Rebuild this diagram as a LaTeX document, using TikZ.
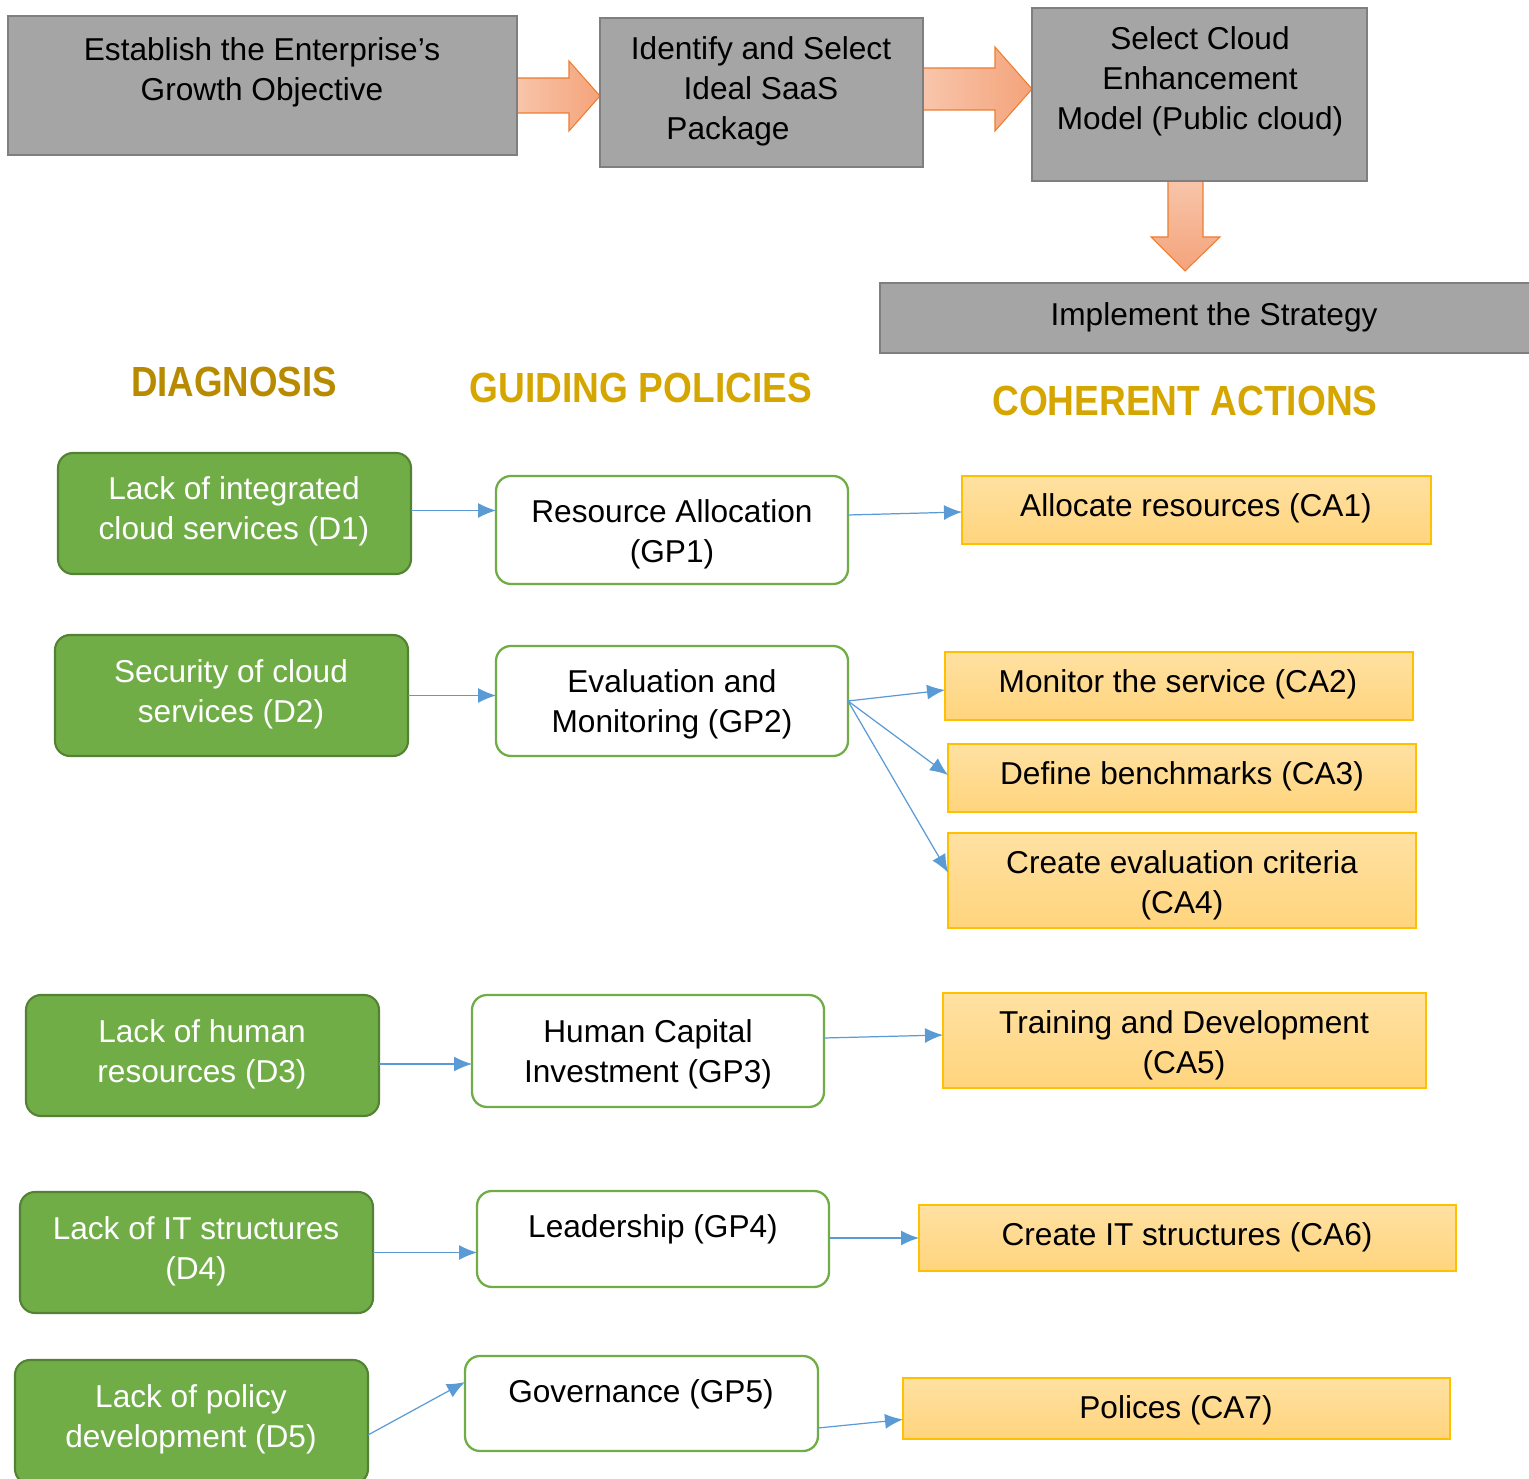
\documentclass[tikz,border=0pt]{standalone}
\usepackage{fontspec}
\setmainfont{Liberation Sans}
\usetikzlibrary{arrows.meta,fit}
\definecolor{greyfill}{RGB}{165,165,165}
\definecolor{greyline}{RGB}{127,127,127}
\definecolor{greenfill}{RGB}{112,173,71}
\definecolor{greenline}{RGB}{84,130,53}
\definecolor{gpline}{RGB}{112,173,71}
\definecolor{caline}{RGB}{255,192,0}
\definecolor{catop}{RGB}{255,225,162}
\definecolor{cabot}{RGB}{255,212,125}
\definecolor{connblue}{RGB}{91,155,213}
\definecolor{arrowlight}{RGB}{248,198,172}
\definecolor{arrowdark}{RGB}{244,163,122}
\definecolor{arrowline}{RGB}{237,125,49}
\definecolor{goldA}{RGB}{184,138,0}
\definecolor{goldB}{RGB}{214,166,0}
\begin{document}
\begin{tikzpicture}[x=0.02cm,y=-0.02cm,
  every node/.style={inner sep=0pt, outer sep=0pt},
  txt/.style={font=\fontsize{18}{22.7}\selectfont, align=center},
  wtxt/.style={txt, text=white},
  greybox/.style={draw=greyline, fill=greyfill, line width=1.3pt},
  dbox/.style={draw=greenline, fill=greenfill, line width=1.2pt, rounded corners=0.3cm},
  gpbox/.style={draw=gpline, fill=white, line width=1.3pt, rounded corners=0.3cm},
  cabox/.style={draw=caline, top color=catop, bottom color=cabot, line width=0.8pt},
  head/.style={font=\fontsize{24}{28}\selectfont\bfseries},
  conn/.style={draw=connblue, line width=0.7pt, -{Latex[length=0.36cm,width=0.3cm]}},
  blockarrow/.style={draw=arrowline, line width=0.6pt, left color=arrowlight, right color=arrowdark},
  blockdown/.style={draw=arrowline, line width=0.6pt, top color=arrowlight, bottom color=arrowdark},
]
\useasboundingbox (0,0) rectangle (1529,1479);

% block arrows
\path[blockarrow] (514,78) -- (569,78) -- (569,61) -- (600,96) -- (569,131) -- (569,113) -- (514,113) -- cycle;
\path[blockarrow] (921,68) -- (995,68) -- (995,47) -- (1032,89) -- (995,131) -- (995,110) -- (921,110) -- cycle;
\path[blockdown] (1168,178) -- (1168,237) -- (1151,237) -- (1185,271) -- (1220,237) -- (1203,237) -- (1203,178) -- cycle;

% top grey boxes
\node[greybox, fit={(8,16)(517,155)}] (b1) {};
\node[txt] (b1t) at (262,72) {Establish the Enterprise’s\\Growth Objective};
\node[greybox, fit={(600,18)(923,167)}] (b2) {};
\node[txt] (b2t) at (761,91) {Identify and Select\\Ideal SaaS\\Package\rule{1.32cm}{0pt}};
\node[greybox, fit={(1032,8)(1367,181)}] (b3) {};
\node[txt] (b3t) at (1200,81.5) {Select Cloud\\Enhancement\\Model (Public cloud)};
\node[greybox, fit={(880,283)(1540,353)}] (b4) {};
\node[txt] (b4t) at (1214,317) {Implement the Strategy};

% headers
\node[head, text=goldA] (hd) at (234,382) {\scalebox{0.87}[1]{DIAGNOSIS}};
\node[head, text=goldB] (hg) at (641,388) {\scalebox{0.88}[1]{GUIDING POLICIES}};
\node[head, text=goldB] (hc) at (1185,401) {\scalebox{0.88}[1]{COHERENT ACTIONS}};

% diagnosis
\node[dbox, fit={(58,453)(411,574)}] (d1) {};
\node[wtxt] (d1t) at (234,511.5) {Lack of integrated\\cloud services (D1)};
\node[dbox, fit={(55,635)(408,756)}] (d2) {};
\node[wtxt] (d2t) at (231,694) {Security of cloud\\services (D2)};
\node[dbox, fit={(26,995)(379,1116)}] (d3) {};
\node[wtxt] (d3t) at (202,1054) {Lack of human\\resources (D3)};
\node[dbox, fit={(20,1192)(373,1313)}] (d4) {};
\node[wtxt] (d4t) at (196,1251.5) {Lack of IT structures\\(D4)};
\node[dbox, fit={(15,1360)(368,1484)}] (d5) {};
\node[wtxt] (d5t) at (191,1419) {Lack of policy\\development (D5)};

% guiding policies
\node[gpbox, fit={(496,476)(848,584)}] (gp1) {};
\node[txt] (gp1t) at (672,534) {Resource Allocation\\(GP1)};
\node[gpbox, fit={(496,646)(848,756)}] (gp2) {};
\node[txt] (gp2t) at (672,704.5) {Evaluation and\\Monitoring (GP2)};
\node[gpbox, fit={(472,995)(824,1107)}] (gp3) {};
\node[txt] (gp3t) at (648,1054) {Human Capital\\Investment (GP3)};
\node[gpbox, fit={(477,1191)(829,1287)}] (gp4) {};
\node[txt] (gp4t) at (653,1229) {Leadership (GP4)};
\node[gpbox, fit={(465,1356)(818,1451)}] (gp5) {};
\node[txt] (gp5t) at (641,1394) {Governance (GP5)};

% coherent actions
\node[cabox, fit={(962,476)(1431,544)}] (ca1) {};
\node[txt] (ca1t) at (1196,508) {Allocate resources (CA1)};
\node[cabox, fit={(945,652)(1413,720)}] (ca2) {};
\node[txt] (ca2t) at (1178,684) {Monitor the service (CA2)};
\node[cabox, fit={(948,744)(1416,812)}] (ca3) {};
\node[txt] (ca3t) at (1182,776) {Define benchmarks (CA3)};
\node[cabox, fit={(948,833)(1416,928)}] (ca4) {};
\node[txt] (ca4t) at (1182,885) {Create evaluation criteria\\(CA4)};
\node[cabox, fit={(943,993)(1426,1088)}] (ca5) {};
\node[txt] (ca5t) at (1184,1045) {Training and Development\\(CA5)};
\node[cabox, fit={(919,1205)(1456,1271)}] (ca6) {};
\node[txt] (ca6t) at (1187,1237) {Create IT structures (CA6)};
\node[cabox, fit={(903,1378)(1450,1439)}] (ca7) {};
\node[txt] (ca7t) at (1176,1410) {Polices (CA7)};

% connectors
\draw[conn] ([yshift=0.06cm]d1.east) -- ([yshift=0.06cm]d1.east -| gp1.west);
\draw[conn] ([yshift=-0.1cm]gp1.east |- ca1.west) -- ([yshift=-0.04cm]ca1.west);
\draw[conn] (d2.east) -- (d2.east -| gp2.west);
\draw[conn] (gp2.east) -- ([yshift=-0.08cm]ca2.west);
\draw[conn] (gp2.east) -- ([yshift=0.06cm]ca3.west);
\draw[conn] (gp2.east) -- ([yshift=0.16cm]ca4.west);
\path ([yshift=-0.17cm]d3.east) coordinate (d3o);
\draw[conn] (d3o) -- (d3o -| gp3.west);
\draw[conn] ([yshift=0.26cm]gp3.east) -- ([yshift=0.11cm]ca5.west);
\draw[conn] (d4.east) -- (d4.east -| gp4.west);
\draw[conn] (gp4.east |- ca6.west) -- (ca6.west);
\draw[conn] ([yshift=-0.26cm]d5.east) -- ([yshift=0.43cm]gp5.west);
\draw[conn] ([yshift=-0.49cm]gp5.east) -- ([yshift=-0.22cm]ca7.west);
\end{tikzpicture}
\end{document}
